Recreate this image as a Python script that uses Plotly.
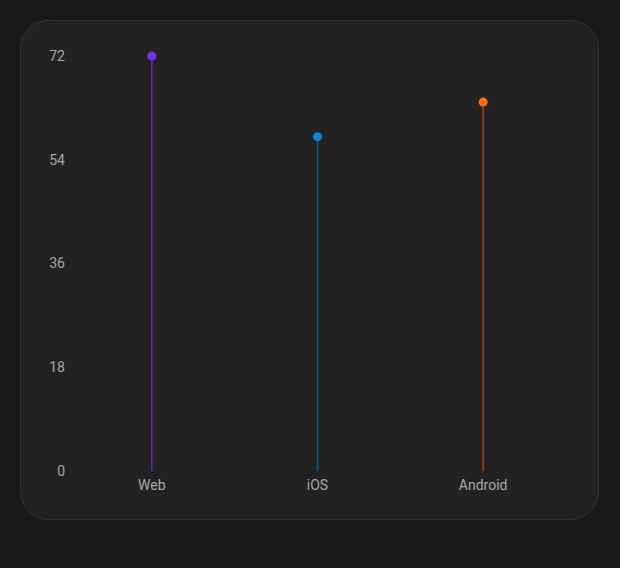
import plotly.graph_objects as go

categories = ["Web", "iOS", "Android"]
values = [72, 58, 64]
dot_colors = ["#7b2ff0", "#0a88d6", "#ff6a10"]
stem_colors = ["rgba(123,47,240,0.75)", "rgba(10,136,214,0.55)", "rgba(255,106,16,0.55)"]
y_ticks = [0, 18, 36, 54, 72]

W, H = 620, 568
ml, mr, mt, mb = 69, 54, 56, 97
pw, ph = W - ml - mr, H - mt - mb

fig = go.Figure()
for c, v, sc in zip(categories, values, stem_colors):
    fig.add_trace(go.Scatter(x=[c, c], y=[0, v], mode="lines",
                             line=dict(color=sc, width=1.5),
                             hoverinfo="skip", showlegend=False))
fig.add_trace(go.Scatter(x=categories, y=values, mode="markers",
                         marker=dict(color=dot_colors, size=9, line=dict(width=0)),
                         cliponaxis=False, showlegend=False))

# rounded card
def px2paper_x(p):
    return (p - ml) / pw
def px2paper_y(p):
    return (H - mb - p) / ph

x0, x1, y0, y1, r = 20.5, 598.5, 20.5, 519.5, 28
def P(x, y):
    return f"{px2paper_x(x):.5f},{px2paper_y(y):.5f}"
k = 0.4477
path = (f"M {P(x0 + r, y0)} L {P(x1 - r, y0)} "
        f"C {P(x1 - r * k, y0)} {P(x1, y0 + r * k)} {P(x1, y0 + r)} "
        f"L {P(x1, y1 - r)} "
        f"C {P(x1, y1 - r * k)} {P(x1 - r * k, y1)} {P(x1 - r, y1)} "
        f"L {P(x0 + r, y1)} "
        f"C {P(x0 + r * k, y1)} {P(x0, y1 - r * k)} {P(x0, y1 - r)} "
        f"L {P(x0, y0 + r)} "
        f"C {P(x0, y0 + r * k)} {P(x0 + r * k, y0)} {P(x0 + r, y0)} Z")
fig.add_shape(type="path", path=path, xref="paper", yref="paper",
              fillcolor="#222222", line=dict(color="#343434", width=1), layer="below")

fig.update_layout(
    width=W, height=H,
    margin=dict(l=ml, r=mr, t=mt, b=mb),
    paper_bgcolor="#191919", plot_bgcolor="rgba(0,0,0,0)",
    font=dict(family="Roboto", size=14, color="#a8a8a8"),
    xaxis=dict(type="category", range=[-0.5, 2.5], showgrid=False, zeroline=False,
               showline=False, ticks="", ticklabelstandoff=4, fixedrange=True),
    yaxis=dict(range=[0, 72], tickvals=y_ticks, showgrid=False, zeroline=False,
               showline=False, ticks="", ticklabelstandoff=3, fixedrange=True),
)

fig.write_html("out.html", config={"displayModeBar": False},
               post_script="document.body.style.margin='0';document.body.style.background='#191919';document.body.style.overflow='hidden';")
